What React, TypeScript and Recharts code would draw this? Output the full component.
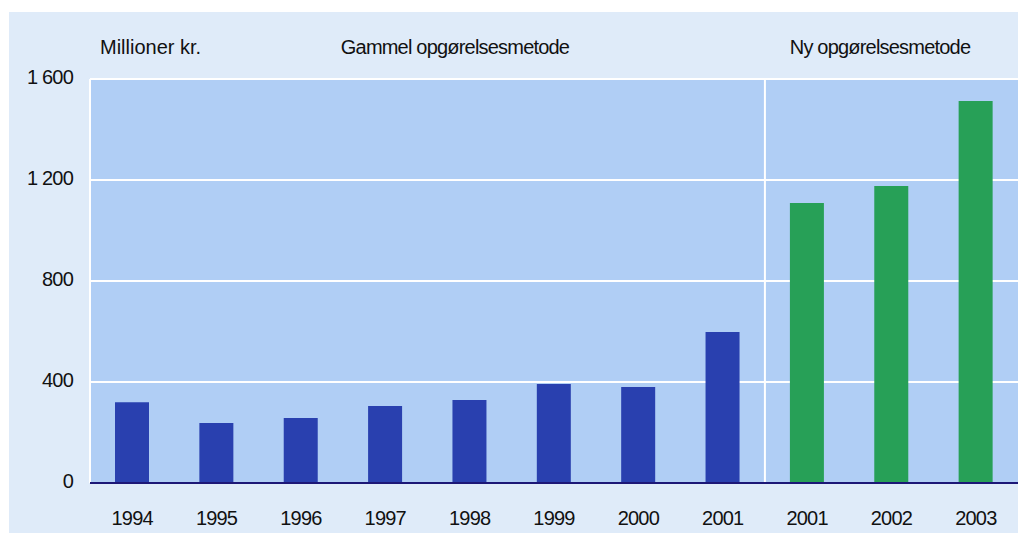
import { BarChart, Bar, XAxis, YAxis, CartesianGrid, ReferenceLine } from 'recharts';

// category ids are unique because 2001 appears under both methods
const categoryIds = ['o1994', 'o1995', 'o1996', 'o1997', 'o1998', 'o1999', 'o2000', 'o2001', 'n2001', 'n2002', 'n2003'];
const yearLabels = ['1994', '1995', '1996', '1997', '1998', '1999', '2000', '2001', '2001', '2002', '2003'];
const oldMethodValues = [320, 238, 257, 305, 329, 392, 380, 598, null, null, null];
const newMethodValues = [null, null, null, null, null, null, null, null, 1109, 1176, 1513];
const yTicks = [0, 400, 800, 1200, 1600];

const FONT = '"Liberation Sans", Arial, sans-serif';
const PANEL = '#dfebf9';
const PLOT = '#b0cef5';

const chartData = categoryIds.map((id, i) => ({
  id,
  label: yearLabels[i],
  gammel: oldMethodValues[i],
  ny: newMethodValues[i],
}));

const formatY = (v: number) => (v >= 1000 ? `${Math.floor(v / 1000)} ${String(v % 1000).padStart(3, '0')}` : String(v));

const textStyle: React.CSSProperties = {
  position: 'absolute',
  fontFamily: FONT,
  fontSize: 20,
  letterSpacing: -0.8,
  color: '#111',
  whiteSpace: 'nowrap',
  lineHeight: '20px',
};

export default function App() {
  return (
    <div style={{ position: 'absolute', left: 0, top: 0, width: 1018, height: 533, background: '#fff', overflow: 'hidden' }}>
      <div style={{ position: 'absolute', left: 9, top: 12, width: 1009, height: 521, background: PANEL }} />
      <div style={{ position: 'absolute', left: 0, top: 0 }}>
        <BarChart
          width={1018}
          height={533}
          data={chartData}
          margin={{ top: 79, right: 0, bottom: 0, left: 0 }}
          barSize={34}
        >
          <CartesianGrid vertical={false} stroke="#ffffff" strokeWidth={2} fill={PLOT} fillOpacity={1} />
          <XAxis
            dataKey="id"
            height={50}
            tickFormatter={(v: string) => yearLabels[categoryIds.indexOf(v)]}
            tickLine={false}
            tickSize={0}
            tickMargin={28}
            axisLine={{ stroke: '#1c1777', strokeWidth: 2 }}
            tick={{ fontFamily: FONT, fontSize: 20, letterSpacing: -0.8, fill: '#111' }}
            interval={0}
          />
          <YAxis
            width={90}
            domain={[0, 1600]}
            ticks={yTicks}
            tickFormatter={formatY}
            axisLine={false}
            tickLine={false}
            tickSize={0}
            tickMargin={17}
            tick={{ fontFamily: FONT, fontSize: 20, letterSpacing: -0.8, fill: '#111', dy: -2 }}
          />
          <ReferenceLine x="o1994" position="start" stroke="#ffffff" strokeWidth={2} />
          <ReferenceLine x="n2001" position="start" stroke="#ffffff" strokeWidth={2} />
          <Bar dataKey="gammel" stackId="a" fill="#2940af" isAnimationActive={false} />
          <Bar dataKey="ny" stackId="a" fill="#27a057" isAnimationActive={false} />
        </BarChart>
      </div>
      <div style={{ ...textStyle, left: 100, top: 37, letterSpacing: 0 }}>Millioner kr.</div>
      <div style={{ ...textStyle, left: 455, top: 37, transform: 'translateX(-50%)' }}>Gammel opgørelsesmetode</div>
      <div style={{ ...textStyle, left: 880, top: 37, transform: 'translateX(-50%)' }}>Ny opgørelsesmetode</div>
    </div>
  );
}
